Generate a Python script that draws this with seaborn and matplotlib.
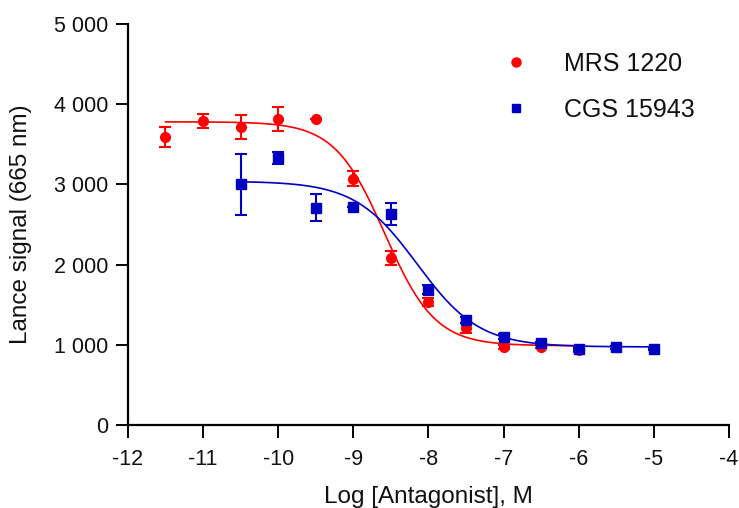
import numpy as np
import pandas as pd
import matplotlib
matplotlib.use("Agg")
import matplotlib.pyplot as plt
import seaborn as sns
from matplotlib.ticker import FuncFormatter
from matplotlib.lines import Line2D

# MRS 1220 (red circles)
mrs_logx = [-11.5, -11, -10.5, -10, -9.5, -9, -8.5, -8, -7.5, -7, -6.5, -6]
mrs_y = [3590, 3790, 3720, 3820, 3820, 3070, 2080, 1530, 1210, 975, 980, 935]
mrs_err = [125, 90, 150, 150, 0, 95, 90, 50, 60, 30, 20, 20]
mrs_fit = dict(top=3780, bottom=990, logic50=-8.58, hill=-1.3)

# CGS 15943 (blue squares)
cgs_logx = [-10.5, -10, -9.5, -9, -8.5, -8, -7.5, -7, -6.5, -6, -5.5, -5]
cgs_y = [3000, 3330, 2710, 2720, 2630, 1690, 1310, 1100, 1020, 945, 970, 950]
cgs_err = [375, 70, 165, 0, 140, 60, 40, 30, 20, 20, 15, 15]
cgs_fit = dict(top=3040, bottom=975, logic50=-8.15, hill=-1.05)

red = "#FF0000"
blue = "#0000C0"


def four_pl(x, p):
    return p["bottom"] + (p["top"] - p["bottom"]) / (1 + 10 ** ((x - p["logic50"]) * -p["hill"]))


sns.set_style("ticks")
plt.rcParams["font.family"] = ["Liberation Sans", "DejaVu Sans"]
plt.rcParams["axes.unicode_minus"] = False

fig = plt.figure(figsize=(7.39, 5.08), dpi=100)
ax = fig.add_axes([0.173, 0.163, 0.8135, 0.79])

curves = []
for name, xs, p in [("MRS 1220", mrs_logx, mrs_fit), ("CGS 15943", cgs_logx, cgs_fit)]:
    xx = np.linspace(min(xs), max(xs), 300)
    curves.append(pd.DataFrame({"x": xx, "y": four_pl(xx, p), "compound": name}))
curve_df = pd.concat(curves)

sns.lineplot(data=curve_df, x="x", y="y", hue="compound",
             palette={"MRS 1220": red, "CGS 15943": blue},
             linewidth=1.2, legend=False, ax=ax)

ax.errorbar(mrs_logx, mrs_y, yerr=mrs_err, fmt="o", color=red, ms=7,
            capsize=4, elinewidth=1.5, capthick=1.5, label="MRS 1220")
ax.errorbar(cgs_logx, cgs_y, yerr=cgs_err, fmt="s", color=blue, ms=7,
            capsize=4, elinewidth=1.5, capthick=1.5, label="CGS 15943")

ax.set_xlim(-12, -4)
ax.set_ylim(0, 5000)
ax.set_xticks(range(-12, -3))
ax.set_yticks(range(0, 5001, 1000))
ax.yaxis.set_major_formatter(FuncFormatter(lambda v, _: f"{int(v):,}".replace(",", " ")))
ax.tick_params(axis="both", labelsize=15.5, length=9, width=1.4, color="black",
               labelcolor="#111111", pad=5)
ax.tick_params(axis="x", pad=8)

sns.despine(ax=ax)
for s in ["left", "bottom"]:
    ax.spines[s].set_linewidth(1.6)
    ax.spines[s].set_color("black")

ax.set_xlabel("Log [Antagonist], M", fontsize=17.5, labelpad=12, color="#111111")
ax.set_ylabel("Lance signal (665 nm)", fontsize=17.5, labelpad=16, color="#111111")

labels = ["MRS 1220", "CGS 15943"]
h = [Line2D([], [], marker="o", ls="", color=red, ms=6.5),
     Line2D([], [], marker="s", ls="", color=blue, ms=5.5)]
ax.legend(h, labels, loc="upper left", bbox_to_anchor=(0.609, 0.956), frameon=False,
          fontsize=18, handlelength=1.0, handletextpad=1.42, labelspacing=0.88,
          borderaxespad=0, labelcolor="#111111")

fig.savefig("out.png", dpi=100)
